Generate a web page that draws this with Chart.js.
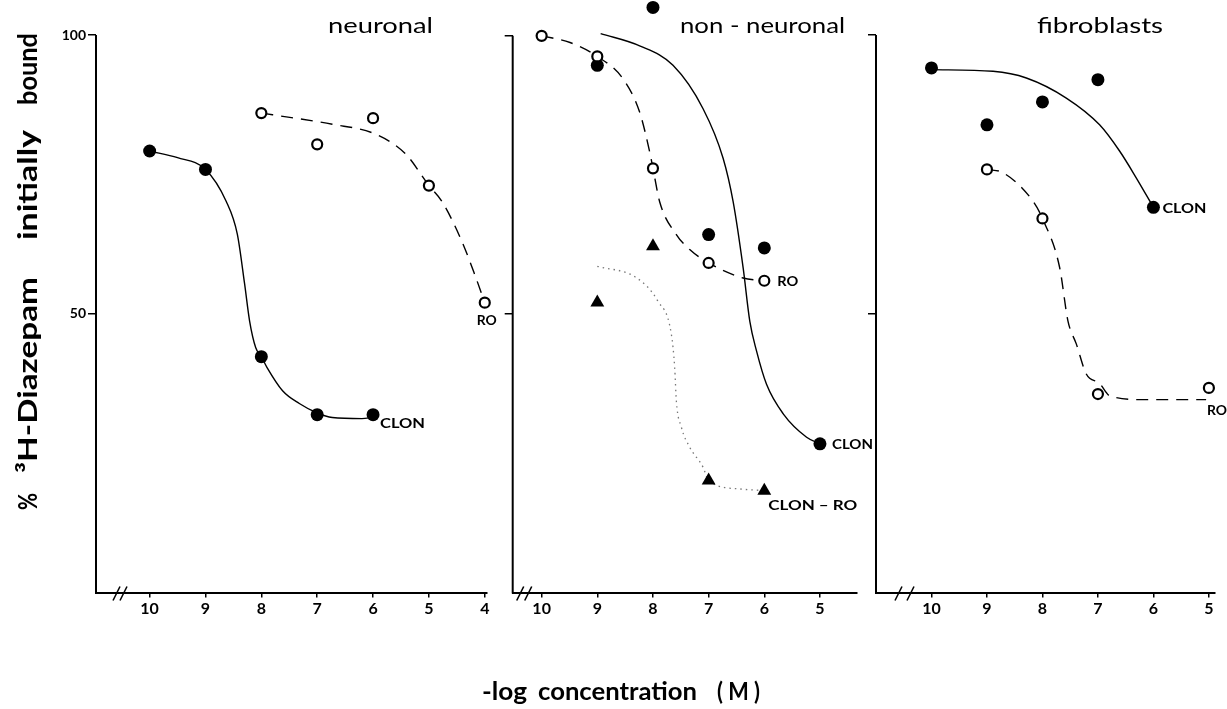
<!DOCTYPE html>
<html><head><meta charset="utf-8">
<script src="https://cdn.jsdelivr.net/npm/chart.js@4.4.0/dist/chart.umd.min.js"></script>
<style>
html,body{margin:0;padding:0;background:#fff;width:1227px;height:709px;overflow:hidden}
#wrap{position:absolute;left:0;top:0;width:1227px;height:709px}
canvas{position:absolute;left:0;top:0}
</style></head><body>
<div id="wrap">
<canvas id="c1" width="1227" height="709"></canvas>
<canvas id="c2" width="1227" height="709"></canvas>
<canvas id="c3" width="1227" height="709"></canvas>
</div>
<script>
// ---------- DATA ----------
const yTickVals = [50, 100];
const neuXTicks = [10, 9, 8, 7, 6, 5, 4];
const nnXTicks  = [10, 9, 8, 7, 6, 5];
const fibXTicks = [10, 9, 8, 7, 6, 5];

const panelTitles = ['neuronal', 'non - neuronal', 'fibroblasts'];

// neuronal
const neuClonX = [10, 9, 8, 7, 6];
const neuClonY = [79.2, 75.9, 42.3, 31.9, 31.9];
const neuRoX = [8, 7, 6, 5, 4];
const neuRoY = [86.0, 80.4, 85.1, 73.0, 52.0];
const neuClonCurveX = [10, 9.5, 9, 8.63, 8.43, 8.3, 8.21, 8.1, 8, 7.9, 7.62, 7.32, 7, 6.73, 6.2, 6];
const neuClonCurveY = [79.2, 78.0, 75.9, 70.2, 64.3, 55.4, 48.7, 43.9, 42.3, 40.4, 36.2, 33.9, 32.2, 31.4, 31.2, 31.4];
const neuRoCurveX = [8, 7.8, 6.73, 5.95, 5.41, 5, 4.77, 4.41, 4.16, 4];
const neuRoCurveY = [86.0, 85.7, 84.0, 82.2, 78.6, 73.0, 70.2, 63.0, 56.5, 52.0];

// non-neuronal
const nnRoX = [10, 9, 8, 7, 6];
const nnRoY = [100, 96.3, 76.2, 59.2, 56.0];
const nnClonX = [9, 8, 7, 6, 5];
const nnClonY = [94.7, 105.1, 64.3, 61.9, 26.7];
const nnDiffX = [9, 8, 7, 6];
const nnDiffY = [52.1, 62.2, 20.1, 18.3];
const nnClonCurveX = [8.94, 8.24, 7.64, 7.10, 6.74, 6.56, 6.38, 6.26, 6.14, 5.96, 5.66, 5.24, 5];
const nnClonCurveY = [100.4, 98.2, 94.7, 86.9, 78.0, 70.2, 58.3, 48.7, 43.4, 37.4, 32.1, 27.9, 26.7];
const nnRoCurveX = [10, 9.49, 9, 8.54, 8.24, 8.06, 8, 7.88, 7.58, 7.34, 7, 6.38, 6];
const nnRoCurveY = [100, 98.8, 96.3, 92.3, 86.3, 79.2, 76.2, 70.2, 64.3, 61.6, 59.2, 56.5, 56.0];
const nnDiffCurveX = [9, 8.29, 7.91, 7.67, 7.61, 7.58, 7.49, 7.34, 7.10, 7, 6.44, 6];
const nnDiffCurveY = [58.6, 56.5, 52.3, 46.4, 40.4, 34.4, 29.7, 26.1, 22.5, 20.1, 18.6, 18.3];

// fibroblasts
const fibClonX = [10, 9, 8, 7, 6];
const fibClonY = [94.1, 83.9, 88.0, 92.0, 69.1];
const fibRoX = [9, 8, 7, 5];
const fibRoY = [75.9, 67.1, 35.6, 36.7];
const fibClonCurveX = [10, 8.89, 8.29, 7.57, 6.97, 6.61, 6.31, 6];
const fibClonCurveY = [93.8, 93.5, 92.3, 88.7, 83.9, 79.2, 74.4, 69.1];
const fibRoCurveX = [9, 8.71, 8.17, 8, 7.69, 7.54, 7.39, 7.21, 6.97, 6.79, 6.19, 5.05];
const fibRoCurveY = [75.9, 75.3, 70.2, 67.1, 58.3, 48.7, 44.6, 39.2, 37.5, 35.3, 34.6, 34.6];

// series labels: text and the data point they belong to
const neuLabelText = ['CLON', 'RO'];
const neuLabelAtX = [6, 4];
const neuLabelAtY = [31.9, 52.0];
const nnLabelText = ['RO', 'CLON', 'CLON \u2013 RO'];
const nnLabelAtX = [6, 5, 6];
const nnLabelAtY = [56.0, 26.7, 18.3];
const fibLabelText = ['CLON', 'RO'];
const fibLabelAtX = [6, 5];
const fibLabelAtY = [69.1, 36.7];

// ---------- RENDERING ----------
const FONT = 'Lato, "Open Sans", sans-serif';
const Y_TOP = 105;          // room above 100 for the off-scale point
const PX_PER_UNIT = 5.59;   // 0 -> 592.5 px, 100 -> 33.5 px
const xy = (xs, ys) => xs.map((x, i) => ({x: x, y: ys[i]}));

function pointSet(xs, ys, kind) {
  const base = {data: xy(xs, ys), showLine: false, order: 0, clip: false};
  if (kind === 'filled') return Object.assign(base, {pointStyle: 'circle', pointRadius: 6.5, backgroundColor: '#000', borderColor: '#000', borderWidth: 0});
  if (kind === 'open') return Object.assign(base, {pointStyle: 'circle', pointRadius: 5, backgroundColor: '#fff', borderColor: '#000', borderWidth: 2.2});
  return Object.assign(base, {pointStyle: 'triangle', pointRadius: 8, backgroundColor: '#000', borderColor: '#000', borderWidth: 0});
}
function curveSet(xs, ys, style) {
  const s = {data: xy(xs, ys), showLine: true, pointRadius: 0, fill: false, order: 1, clip: false,
    cubicInterpolationMode: 'monotone', borderColor: '#000', borderWidth: 1.4, borderDash: []};
  if (style === 'dash') s.borderDash = [12, 8];
  if (style === 'dot') { s.borderDash = [1.5, 4]; s.borderColor = '#777'; s.borderWidth = 1.3; }
  return s;
}

function fitText(ctx, text, x, y, font, targetW, align, baseline) {
  ctx.save();
  ctx.font = font;
  ctx.textAlign = align || 'left';
  ctx.textBaseline = baseline || 'alphabetic';
  const w = ctx.measureText(text).width;
  const sx = targetW ? targetW / w : 1;
  ctx.translate(x, y);
  ctx.scale(sx, 1);
  ctx.fillStyle = '#000';
  ctx.fillText(text, 0, 0);
  ctx.restore();
}

function annotPlugin(o) {
  return {
    id: 'annot',
    beforeDatasetsDraw(chart) {
      // y axis line from 100 down to the x axis
      const ctx = chart.ctx, ys = chart.scales.y, ca = chart.chartArea;
      ctx.save();
      ctx.strokeStyle = '#000'; ctx.lineWidth = 2;
      ctx.beginPath();
      ctx.moveTo(ca.left, ys.getPixelForValue(100));
      ctx.lineTo(ca.left, ca.bottom + 1);
      ctx.stroke();
      ctx.restore();
    },
    afterDraw(chart) {
      const ctx = chart.ctx, xs = chart.scales.x, ys = chart.scales.y, ca = chart.chartArea;
      // panel title
      fitText(ctx, o.title, o.titleCx, 33, '21px ' + FONT, o.titleW, 'center');
      // series labels
      o.labelText.forEach((t, i) => {
        const px = xs.getPixelForValue(o.labelAtX[i]) + o.labelDx[i];
        const py = ys.getPixelForValue(o.labelAtY[i]) + o.labelDy[i];
        fitText(ctx, t, px, py, 'bold 13px ' + FONT, o.labelW[i], 'left', 'middle');
      });
      // axis break marks
      ctx.save();
      ctx.strokeStyle = '#000'; ctx.lineWidth = 1.6;
      const yb = ca.bottom;
      o.breaks.forEach(b => {
        ctx.beginPath();
        ctx.moveTo(ca.left + b, yb + 8);
        ctx.lineTo(ca.left + b + 7, yb - 6);
        ctx.stroke();
      });
      ctx.restore();
      if (o.globalTitles) {
        const words = [['%', 501.5, 17], ['\u00B3H-Diazepam', 375, 196], ['initially', 185, 110], ['bound', 69, 72]];
        words.forEach(w => {
          ctx.save();
          ctx.translate(37, w[1]);
          ctx.rotate(-Math.PI / 2);
          fitText(ctx, w[0], 0, 0, 'bold 26px ' + FONT, w[2], 'center');
          ctx.restore();
        });
        const xw = [['-log', 504.5, 45], ['concentration', 617.5, 159], ['( M )', 738.5, 43]];
        xw.forEach(w => fitText(ctx, w[0], w[1], 700, 'bold 24px ' + FONT, w[2], 'center'));
      }
    }
  };
}

function makeChart(id, o) {
  const ds = o.points.concat(o.curves);
  const xHeight = 40;
  const bottomPx = 592.5;
  const topPx = bottomPx - Y_TOP * PX_PER_UNIT;
  return new Chart(document.getElementById(id), {
    type: 'scatter',
    data: {datasets: ds},
    options: {
      responsive: false, animation: false, events: [],
      layout: {padding: {left: o.left - o.yW, right: 1227 - o.right, top: topPx, bottom: 709 - bottomPx - xHeight}},
      plugins: {legend: {display: false}, tooltip: {enabled: false}, title: {display: false}},
      scales: {
        x: {
          type: 'linear', reverse: true, min: o.xmin, max: o.xmax,
          afterBuildTicks: s => { s.ticks = o.xTicks.map(v => ({value: v})); },
          afterFit: s => { s.height = xHeight; s.paddingLeft = 0; s.paddingRight = 0; },
          grid: {drawOnChartArea: false, drawTicks: true, tickLength: 5, color: '#000', lineWidth: 1.5},
          border: {display: true, color: '#000', width: 2},
          ticks: {color: '#000', font: {family: FONT, size: 16, weight: 'bold'}, padding: 2, maxRotation: 0, autoSkip: false}
        },
        y: {
          type: 'linear', min: 0, max: Y_TOP,
          afterBuildTicks: s => { s.ticks = yTickVals.map(v => ({value: v})); },
          afterFit: s => { s.width = o.yW; s.paddingTop = 0; s.paddingBottom = 0; },
          grid: {drawOnChartArea: false, drawTicks: true, tickLength: 8, color: '#000', lineWidth: 1.5},
          border: {display: false},
          ticks: {color: '#000', font: {family: FONT, size: 14, weight: 'bold'}, padding: 2,
                  callback: o.yLabels ? (v => String(v)) : (() => '')}
        }
      }
    },
    plugins: [annotPlugin(o)]
  });
}

makeChart('c1', {
  left: 96, right: 487, yW: 50, xmin: 3.96, xmax: 10.96, xTicks: neuXTicks, yLabels: true,
  points: [pointSet(neuClonX, neuClonY, 'filled'), pointSet(neuRoX, neuRoY, 'open')],
  curves: [curveSet(neuClonCurveX, neuClonCurveY, 'solid'), curveSet(neuRoCurveX, neuRoCurveY, 'dash')],
  title: panelTitles[0], titleCx: 380.5, titleW: 105,
  labelText: neuLabelText, labelAtX: neuLabelAtX, labelAtY: neuLabelAtY,
  labelDx: [7, -8], labelDy: [9, 18], labelW: [45, 20],
  breaks: [17, 24], globalTitles: true
});
makeChart('c2', {
  left: 512.7, right: 856.7, yW: 30, xmin: 4.34, xmax: 10.52, xTicks: nnXTicks, yLabels: false,
  points: [pointSet(nnRoX, nnRoY, 'open'), pointSet(nnClonX, nnClonY, 'filled'), pointSet(nnDiffX, nnDiffY, 'tri')],
  curves: [curveSet(nnClonCurveX, nnClonCurveY, 'solid'), curveSet(nnRoCurveX, nnRoCurveY, 'dash'), curveSet(nnDiffCurveX, nnDiffCurveY, 'dot')],
  title: panelTitles[1], titleCx: 762.5, titleW: 165,
  labelText: nnLabelText, labelAtX: nnLabelAtX, labelAtY: nnLabelAtY,
  labelDx: [13, 12, 4], labelDy: [1, 1, 15], labelW: [21, 41, 89],
  breaks: [4, 12], globalTitles: false
});
makeChart('c3', {
  left: 876, right: 1215, yW: 30, xmin: 4.89, xmax: 11.0, xTicks: fibXTicks, yLabels: false,
  points: [pointSet(fibClonX, fibClonY, 'filled'), pointSet(fibRoX, fibRoY, 'open')],
  curves: [curveSet(fibClonCurveX, fibClonCurveY, 'solid'), curveSet(fibRoCurveX, fibRoCurveY, 'dash')],
  title: panelTitles[2], titleCx: 1100, titleW: 126,
  labelText: fibLabelText, labelAtX: fibLabelAtX, labelAtY: fibLabelAtY,
  labelDx: [9, -2], labelDy: [1, 23], labelW: [44, 20],
  breaks: [19, 31], globalTitles: false
});
</script>
</body></html>
